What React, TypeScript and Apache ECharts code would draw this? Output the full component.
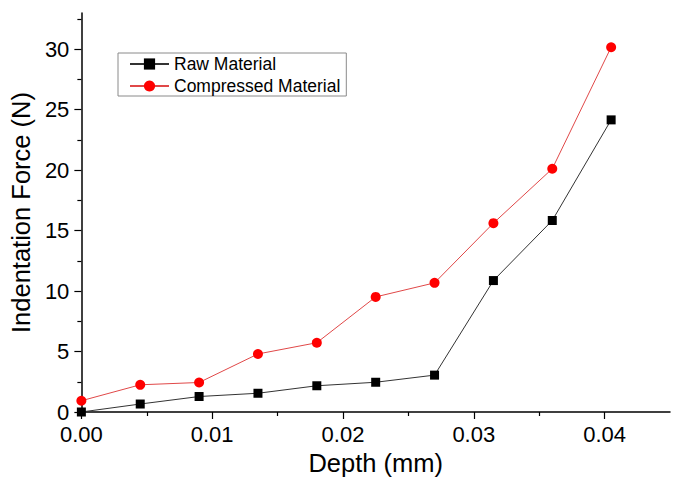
import React, { useEffect, useRef } from "react";
import * as echarts from "echarts";

const depth = [0, 0.0045, 0.009, 0.0135, 0.018, 0.0225, 0.027, 0.0315, 0.036, 0.0405];
const rawMaterial = [0.0, 0.66, 1.28, 1.55, 2.17, 2.46, 3.05, 10.87, 15.84, 24.16];
const compressedMaterial = [0.93, 2.25, 2.44, 4.8, 5.73, 9.52, 10.68, 15.62, 20.12, 30.17];
const seriesNames = ["Raw Material", "Compressed Material"];
const yTickValues = [0, 5, 10, 15, 20, 25, 30];
const xTickValues = [0, 0.01, 0.02, 0.03, 0.04];

const FONT = "'Liberation Sans', Arial, sans-serif";

export default function App() {
  const ref = useRef<HTMLDivElement>(null);
  useEffect(() => {
    if (!ref.current) return;
    const chart = echarts.init(ref.current, null, { renderer: "svg" });
    chart.setOption({
      animation: false,
      backgroundColor: "#ffffff",
      grid: { left: 79, right: 5, top: 13, bottom: 69, containLabel: false },
      legend: {
        left: 118,
        top: 53,
        orient: "vertical",
        data: seriesNames,
        itemWidth: 39,
        itemHeight: 14,
        itemGap: 4,
        padding: [2, 6, 1, 11],
        borderColor: "#8a8a8a",
        borderWidth: 1,
        textStyle: { fontFamily: FONT, fontSize: 17.5, lineHeight: 18, color: "#000" },
      },
      xAxis: {
        type: "value",
        min: 0,
        max: 0.045,
        interval: 0.01,
        axisLine: { onZero: false, lineStyle: { color: "#000", width: 1.5 } },
        axisTick: { show: true, inside: false, length: 7, lineStyle: { color: "#000", width: 1.2 }, customValues: xTickValues },
        minorTick: { show: true, splitNumber: 2, length: 4, lineStyle: { color: "#000", width: 1.2 } },
        splitLine: { show: false },
        axisLabel: {
          customValues: xTickValues,
          formatter: (v: number) => v.toFixed(2),
          fontFamily: FONT,
          fontSize: 22,
          lineHeight: 18,
          color: "#000",
          margin: 13,
        },
        name: "Depth (mm)",
        nameLocation: "middle",
        nameGap: 38,
        nameTextStyle: { fontFamily: FONT, fontSize: 25.5, color: "#000" },
      },
      yAxis: {
        type: "value",
        min: 0,
        max: 33,
        interval: 5,
        axisLine: { show: true, onZero: false, lineStyle: { color: "#000", width: 1.5 } },
        axisTick: { show: true, inside: false, length: 7, lineStyle: { color: "#000", width: 1.2 }, customValues: yTickValues },
        minorTick: { show: true, splitNumber: 2, length: 4, lineStyle: { color: "#000", width: 1.2 } },
        splitLine: { show: false },
        axisLabel: {
          customValues: yTickValues,
          fontFamily: FONT,
          fontSize: 22,
          lineHeight: 18,
          color: "#000",
          margin: 12,
        },
        name: "Indentation Force (N)",
        nameLocation: "middle",
        nameGap: 46,
        nameTextStyle: { fontFamily: FONT, fontSize: 25.5, color: "#000" },
      },
      series: [
        {
          name: seriesNames[0],
          type: "line",
          data: depth.map((d, i) => [d, rawMaterial[i]]),
          symbol: "rect",
          symbolSize: 9,
          itemStyle: { color: "#000" },
          lineStyle: { color: "#333", width: 1 },
          z: 3,
        },
        {
          name: seriesNames[1],
          type: "line",
          data: depth.map((d, i) => [d, compressedMaterial[i]]),
          symbol: "circle",
          symbolSize: 10,
          itemStyle: { color: "#ff0000" },
          lineStyle: { color: "#e04848", width: 1 },
          z: 2,
        },
      ],
    });
    return () => chart.dispose();
  }, []);
  return <div ref={ref} style={{ width: 675, height: 481, position: "absolute", left: 0, top: 0 }} />;
}
